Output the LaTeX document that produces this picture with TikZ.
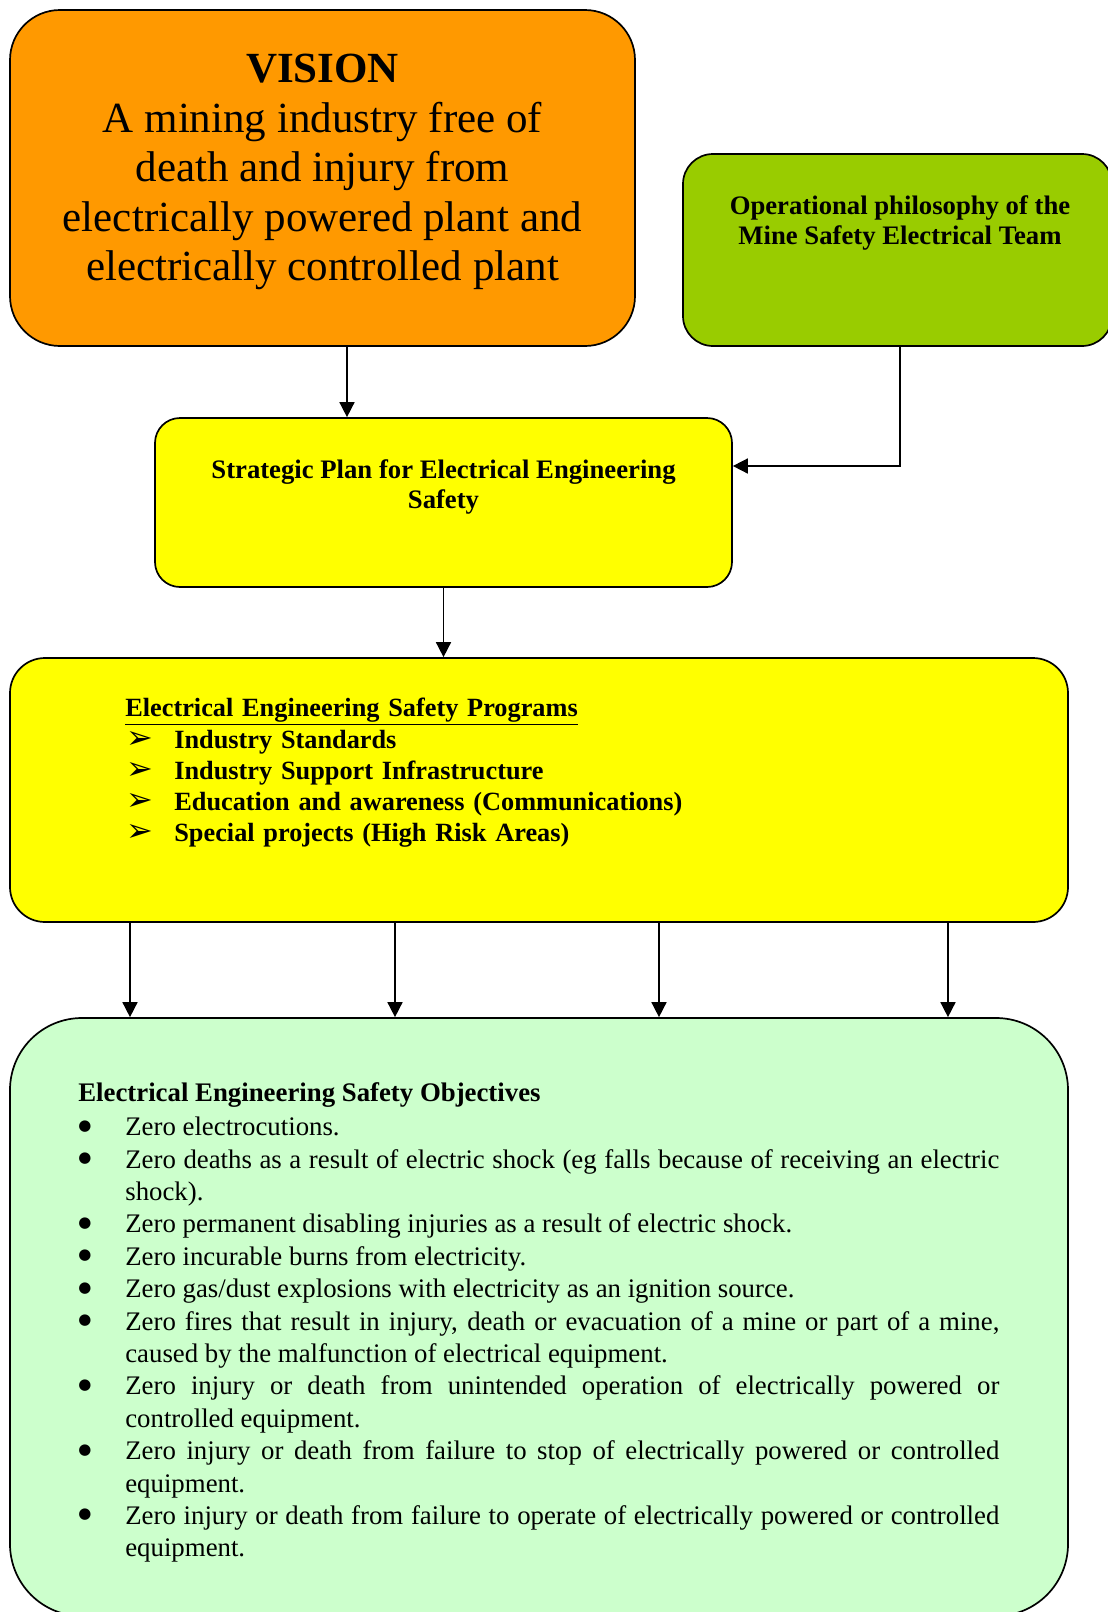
\documentclass[tikz,border=0pt]{standalone}
\usepackage{fontspec}
\setmainfont{Liberation Serif}
\newfontfamily\dingfont{DejaVu Sans}
\usetikzlibrary{positioning,arrows.meta}

\definecolor{visionorange}{HTML}{FF9900}
\definecolor{teamgreen}{HTML}{99CC00}
\definecolor{planyellow}{HTML}{FFFF00}
\definecolor{objgreen}{HTML}{CCFFCC}

\hyphenpenalty=10000
\exhyphenpenalty=10000
\tolerance=3000

\newcommand{\progitem}[1]{\par\noindent\makebox[49pt][l]{\hspace{1pt}{\dingfont\fontsize{32}{32}\selectfont ➢}}#1\par}
\newcommand{\objitem}[1]{\par\noindent\hangindent=47pt\hangafter=1\makebox[47pt][l]{\raisebox{5.5pt}{\dingfont\fontsize{15}{15}\selectfont ●}}#1\par}

\begin{document}
\begin{tikzpicture}[x=1pt, y=-1pt,
        box/.style={rectangle, draw, line width=1.7pt, rounded corners=#1, inner sep=0pt},
        box/.default=25pt,
        arr/.style={-{Triangle[length=15pt, width=15pt]}, line width=1.6pt},
        boxtext/.style={inner sep=0pt, align=center, font=\fontsize{26.7}{30}\selectfont\bfseries},
        listtext/.style={inner sep=0pt, anchor=north west, font=\fontsize{26.3}{31.2}\selectfont}
    ]
        \useasboundingbox (0,0) rectangle (1108,1612);

        % Boxes
        \node[box=50pt, fill=visionorange, minimum width=625pt, minimum height=336pt] (vision) at (322.5,178) {};
        \node[box=30pt, fill=teamgreen, minimum width=429pt, minimum height=192pt] (team) at (897.5,250) {};
        \node[box=25pt, fill=planyellow, minimum width=577pt, minimum height=169pt] (plan) at (443.5,502.5) {};
        \node[box=35pt, fill=planyellow, minimum width=1058pt, minimum height=264pt] (programs) at (539,790) {};
        \node[box=72pt, fill=objgreen, minimum width=1058pt, minimum height=598pt] (objectives) at (539,1317) {};

        % Texts
        \node[inner sep=0pt, align=center, font=\fontsize{43}{49.5}\selectfont, below=45pt of vision.north] (visiontext)
            {\textbf{VISION}\\A mining industry free of\\death and injury from\\electrically powered plant and\\electrically controlled plant};
        \node[boxtext, below=42pt of team.north, xshift=2.5pt] (teamtext) {Operational philosophy of the\\Mine Safety Electrical Team};
        \node[boxtext, below=42pt of plan.north] (plantext) {Strategic Plan for Electrical Engineering\\Safety};
        \node[listtext, text width=900pt, align=left] (proglist) at ([xshift=116pt, yshift=-41pt]programs.north west)
            {\bfseries\underline{Electrical Engineering Safety Programs}
             \progitem{Industry Standards}
             \progitem{Industry Support Infrastructure}
             \progitem{Education and awareness (Communications)}
             \progitem{Special projects (High Risk Areas)}};
        \node[listtext, font=\fontsize{26.8}{32.4}\selectfont, text width=921pt, align=justify] (objlist) at ([xshift=69pt, yshift=-65pt]objectives.north west)
            {\noindent\textbf{Electrical Engineering Safety Objectives}\par\vspace{2pt}
             \objitem{Zero electrocutions.}
             \objitem{Zero deaths as a result of electric shock (eg falls because of receiving an electric shock).}
             \objitem{Zero permanent disabling injuries as a result of electric shock.}
             \objitem{Zero incurable burns from electricity.}
             \objitem{Zero gas/dust explosions with electricity as an ignition source.}
             \objitem{Zero fires that result in injury, death or evacuation of a mine or part of a mine, caused by the malfunction of electrical equipment.}
             \objitem{Zero injury or death from unintended operation of electrically powered or controlled equipment.}
             \objitem{Zero injury or death from failure to stop of electrically powered or controlled equipment.}
             \objitem{Zero injury or death from failure to operate of electrically powered or controlled equipment.}};

        % Connections
        \draw[arr] ([xshift=24.5pt]vision.south) -- ([xshift=-96.5pt]plan.north);
        \draw[arr] ([xshift=2.5pt]team.south) |- ([yshift=36.5pt]plan.east);
        \draw[arr] (plan.south) -- ([xshift=-95.5pt]programs.north);
        \foreach \dx in {-409,-144,120,409}
            \draw[arr] ([xshift=\dx pt]programs.south) -- ([xshift=\dx pt]objectives.north);

    \end{tikzpicture}
\end{document}
